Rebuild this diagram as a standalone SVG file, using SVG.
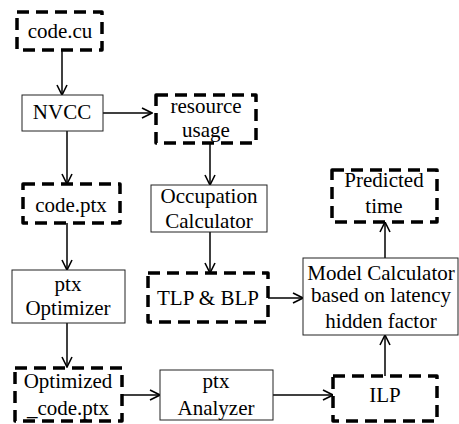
<svg xmlns="http://www.w3.org/2000/svg" width="459" height="424" viewBox="0 0 459 424" font-family="'Liberation Serif', 'Times New Roman', 'DejaVu Serif', serif">
<style>
.d{fill:#fff;stroke:#000;stroke-width:3.5;stroke-dasharray:12 7;stroke-linejoin:round}
.s{fill:#fff;stroke:#222;stroke-width:1}
text{font-family:'Liberation Serif','Times New Roman','DejaVu Serif',serif;font-size:21px;fill:#000;text-anchor:middle}
.c line{stroke:#000;stroke-width:1.5;marker-end:url(#a)}
</style>
<defs>
<marker id="a" viewBox="0 0 12 12" refX="11" refY="6" markerWidth="12" markerHeight="12" markerUnits="userSpaceOnUse" orient="auto">
<path d="M1,1 L11,6 L1,11" fill="none" stroke="#000" stroke-width="1.6"/>
</marker>
</defs>
<rect width="459" height="424" fill="#fff"/>
<g class="c">
<line x1="62" y1="50" x2="62" y2="95"/>
<line x1="103" y1="113" x2="152" y2="113"/>
<line x1="67" y1="131" x2="67" y2="184"/>
<line x1="210" y1="143" x2="210" y2="185"/>
<line x1="210" y1="232" x2="210" y2="273"/>
<line x1="67" y1="223" x2="67" y2="270"/>
<line x1="268" y1="298" x2="303" y2="298"/>
<line x1="385" y1="258" x2="385" y2="222"/>
<line x1="67" y1="323" x2="67" y2="367"/>
<line x1="122" y1="395" x2="160" y2="395"/>
<line x1="273" y1="395" x2="333" y2="395"/>
<line x1="385" y1="376" x2="385" y2="335"/>
</g>
<g id="code_cu"><rect class="d" x="17" y="12" width="85" height="38"/><text x="60" y="38">code.cu</text></g>
<g id="nvcc"><rect class="s" x="22" y="95" width="81" height="36"/><text x="62" y="119">NVCC</text></g>
<g id="resource_usage"><rect class="d" x="156" y="95" width="100" height="48"/><text x="206" y="113">resource</text><text x="206" y="137">usage</text></g>
<g id="occupation"><rect class="s" x="151" y="185" width="116" height="47"/><text x="209" y="203">Occupation</text><text x="209" y="228">Calculator</text></g>
<g id="code_ptx"><rect class="d" x="23" y="184" width="97" height="39"/><text x="71" y="212">code.ptx</text></g>
<g id="ptx_optimizer"><rect class="s" x="12" y="270" width="113" height="53"/><text x="68" y="291">ptx</text><text x="68" y="315">Optimizer</text></g>
<g id="tlp_blp"><rect class="d" x="148" y="273" width="120" height="49"/><text x="208" y="305">TLP &amp; BLP</text></g>
<g id="predicted"><rect class="d" x="332" y="170" width="105" height="52"/><text x="384" y="187">Predicted</text><text x="384" y="213">time</text></g>
<g id="model_calc"><rect class="s" x="303" y="258" width="155" height="77"/><text x="381" y="280">Model Calculator</text><text x="381" y="302">based on latency</text><text x="381" y="328">hidden factor</text></g>
<g id="optimized"><rect class="d" x="15" y="368" width="107" height="53"/><text x="68" y="388">Optimized</text><text x="68" y="415">_code.ptx</text></g>
<g id="ptx_analyzer"><rect class="s" x="160" y="370" width="113" height="50"/><text x="216" y="388">ptx</text><text x="216" y="415">Analyzer</text></g>
<g id="ilp"><rect class="d" x="333" y="376" width="104" height="45"/><text x="385" y="402">ILP</text></g>
</svg>
